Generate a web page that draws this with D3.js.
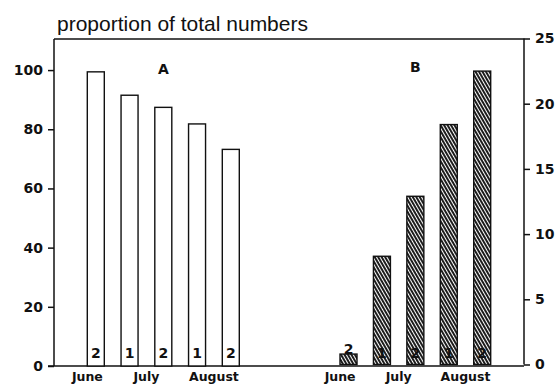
<!DOCTYPE html>
<html>
<head>
<meta charset="utf-8">
<script src="https://cdn.jsdelivr.net/npm/d3@7"></script>
<style>
  html, body { margin: 0; padding: 0; background: #fff; }
  svg { display: block; }
</style>
</head>
<body>
<svg id="chart" width="560" height="386"></svg>
<script>
// ---- data ----
const months = ["June", "July", "August"];
const monthPos = [-0.25, 1.5, 3.5];           // position of month label in bar-index units
const sampleLabels = ["2", "1", "2", "1", "2"];
const valuesA = [99.4, 91.5, 87.4, 81.8, 73.2]; // left axis (%)
const valuesB = [0.8, 8.3, 12.9, 18.4, 22.5];   // right axis
const leftTicks = [0, 20, 40, 60, 80, 100];
const rightTicks = [0, 5, 10, 15, 20, 25];
const titleText = "proportion of total numbers";
const panelLabels = ["A", "B"];

// ---- layout ----
const svg = d3.select("#chart");
const frame = { left: 54, right: 524, top: 39, bottom: 366 };
const barW = 17;

const yL = d3.scaleLinear().domain([0, 110.5]).range([frame.bottom, frame.top]);
const yR = d3.scaleLinear().domain([0, 25]).range([364.5, 38.5]);
const xA = d3.scaleLinear().domain([0, 4]).range([87.3, 222.3]);
const xB = d3.scaleLinear().domain([0, 4]).range([340, 473.7]);

// hatch pattern
const defs = svg.append("defs");
const pat = defs.append("pattern")
  .attr("id", "hatch")
  .attr("patternUnits", "userSpaceOnUse")
  .attr("width", 3).attr("height", 3)
  .attr("patternTransform", "rotate(-30)");
pat.append("rect").attr("width", 3).attr("height", 3).attr("fill", "#fff");
pat.append("line").attr("x1", 1).attr("y1", 0).attr("x2", 1).attr("y2", 3)
  .attr("stroke", "#111").attr("stroke-width", 1.9);

const tickFont = "'DejaVu Sans', sans-serif";

// title
svg.append("text")
  .attr("x", 57).attr("y", 31)
  .attr("font-family", "'Liberation Sans', Arial, sans-serif")
  .attr("font-size", 21)
  .attr("fill", "#111")
  .text(titleText);

// frame top line
svg.append("line")
  .attr("x1", frame.left).attr("x2", frame.right)
  .attr("y1", frame.top).attr("y2", frame.top)
  .attr("stroke", "#111").attr("stroke-width", 1.5);

// left axis
const gL = svg.append("g").attr("transform", `translate(${frame.left},0)`)
  .call(d3.axisLeft(yL).tickValues(leftTicks).tickSize(6).tickPadding(5));
gL.select(".domain").attr("d", `M0,${frame.top}V${frame.bottom}`);
// right axis
const gR = svg.append("g").attr("transform", `translate(${frame.right},0)`)
  .call(d3.axisRight(yR).tickValues(rightTicks).tickSize(6).tickPadding(5));
gR.select(".domain").attr("d", `M0,${yR(25)}V${yR(0)}`);

[gL, gR].forEach(g => {
  g.select(".domain").attr("stroke", "#111").attr("stroke-width", 1.5);
  g.selectAll(".tick line").attr("stroke", "#111").attr("stroke-width", 1.5);
  g.selectAll(".tick text")
    .attr("font-family", tickFont).attr("font-weight", "bold")
    .attr("font-size", 14).attr("fill", "#111");
});

// baseline
svg.append("line")
  .attr("x1", frame.left - 6).attr("x2", frame.right)
  .attr("y1", frame.bottom).attr("y2", frame.bottom)
  .attr("stroke", "#111").attr("stroke-width", 1.5);

// bars A
svg.append("g").selectAll("rect").data(valuesA).join("rect")
  .attr("x", (d, i) => xA(i)).attr("width", barW)
  .attr("y", d => yL(d)).attr("height", d => yL(0) - yL(d))
  .attr("fill", "#fff").attr("stroke", "#111").attr("stroke-width", 1.4);

// bars B
svg.append("g").selectAll("rect").data(valuesB).join("rect")
  .attr("x", (d, i) => xB(i)).attr("width", barW)
  .attr("y", d => yR(d)).attr("height", d => yR(0) - yR(d))
  .attr("fill", "url(#hatch)").attr("stroke", "#111").attr("stroke-width", 1.4);

// sample labels: near the bottom inside the bar, or on top of a short bar
const labelY = top => (top > 345 ? top - 0.5 : 358);

svg.append("g").selectAll("text").data(valuesA).join("text")
  .attr("x", (d, i) => xA(i) + barW / 2)
  .attr("y", d => labelY(yL(d)))
  .attr("text-anchor", "middle")
  .attr("font-family", tickFont).attr("font-weight", "bold").attr("font-size", 14)
  .attr("fill", "#111")
  .text((d, i) => sampleLabels[i]);

svg.append("g").selectAll("text").data(valuesB).join("text")
  .attr("x", (d, i) => xB(i) + barW / 2)
  .attr("y", d => labelY(yR(d)))
  .attr("text-anchor", "middle")
  .attr("font-family", tickFont).attr("font-weight", "bold").attr("font-size", 14)
  .attr("fill", "#111")
  .text((d, i) => sampleLabels[i]);

// month labels
[xA, xB].forEach(xs => {
  svg.append("g").selectAll("text").data(months).join("text")
    .attr("x", (d, i) => xs(monthPos[i]) + barW / 2)
    .attr("y", 381)
    .attr("text-anchor", "middle")
    .attr("font-family", tickFont).attr("font-weight", "bold").attr("font-size", 12.5)
    .attr("fill", "#111")
    .text(d => d);
});

// panel labels
[[xA, 74], [xB, 72]].forEach(([xs, yy], k) => {
  svg.append("text")
    .attr("x", (xs(0) + xs(4) + barW) / 2)
    .attr("y", yy)
    .attr("text-anchor", "middle")
    .attr("font-family", tickFont).attr("font-weight", "bold").attr("font-size", 14)
    .attr("fill", "#111")
    .text(panelLabels[k]);
});
</script>
</body>
</html>
